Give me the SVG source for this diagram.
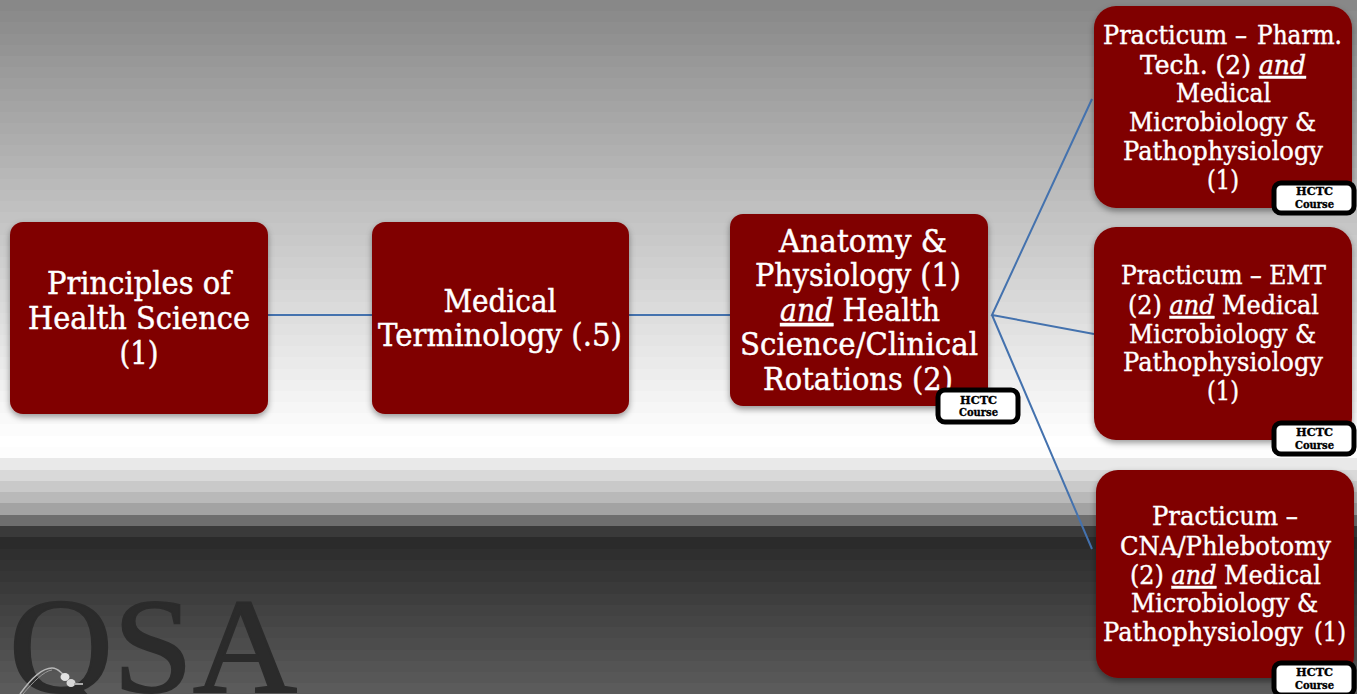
<svg xmlns="http://www.w3.org/2000/svg" width="1357" height="694" viewBox="0 0 1357 694">
<defs>
<style>
.box{fill:#800000;filter:url(#sh)}
.t{font-family:"DejaVu Serif","Liberation Serif",serif;fill:#fff;stroke:#fff;stroke-width:.45px;text-anchor:middle}
.l{font-size:31.5px}
.m{font-size:26px}
.em{font-style:italic;text-decoration:underline}
.badge{fill:#fff;stroke:#000;stroke-width:5}
.bt{font-family:"DejaVu Serif","Liberation Serif",serif;font-weight:bold;font-size:11px;fill:#000;stroke:#000;stroke-width:.35px;text-anchor:middle}
.c{stroke:#4472ae;stroke-width:2;fill:none}
</style>
<filter id="sh" x="-10%" y="-10%" width="120%" height="120%"><feDropShadow dx="0" dy="3" stdDeviation="3" flood-color="#000" flood-opacity=".4"/></filter>
</defs>
<g id="background">
<rect width="1357" height="12" y="0" fill="#888888"/><rect width="1357" height="12" y="11" fill="#8b8b8b"/><rect width="1357" height="13" y="22" fill="#8e8e8e"/><rect width="1357" height="12" y="34" fill="#919191"/><rect width="1357" height="12" y="45" fill="#949494"/><rect width="1357" height="12" y="56" fill="#989898"/><rect width="1357" height="12" y="67" fill="#9b9b9b"/><rect width="1357" height="12" y="78" fill="#9e9e9e"/><rect width="1357" height="13" y="89" fill="#a1a1a1"/><rect width="1357" height="12" y="101" fill="#a4a4a4"/><rect width="1357" height="12" y="112" fill="#a7a7a7"/><rect width="1357" height="12" y="123" fill="#aaaaaa"/><rect width="1357" height="12" y="134" fill="#adadad"/><rect width="1357" height="12" y="145" fill="#b0b0b0"/><rect width="1357" height="13" y="156" fill="#b3b3b3"/><rect width="1357" height="12" y="168" fill="#b7b7b7"/><rect width="1357" height="12" y="179" fill="#bababa"/><rect width="1357" height="12" y="190" fill="#bdbdbd"/><rect width="1357" height="12" y="201" fill="#c0c0c0"/><rect width="1357" height="12" y="212" fill="#c3c3c3"/><rect width="1357" height="13" y="223" fill="#c6c6c6"/><rect width="1357" height="12" y="235" fill="#c9c9c9"/><rect width="1357" height="12" y="246" fill="#cccccc"/><rect width="1357" height="12" y="257" fill="#cfcfcf"/><rect width="1357" height="12" y="268" fill="#d2d2d2"/><rect width="1357" height="12" y="279" fill="#d5d5d5"/><rect width="1357" height="13" y="290" fill="#d8d8d8"/><rect width="1357" height="12" y="302" fill="#dbdbdb"/><rect width="1357" height="12" y="313" fill="#dedede"/><rect width="1357" height="12" y="324" fill="#e1e1e1"/><rect width="1357" height="12" y="335" fill="#e4e4e4"/><rect width="1357" height="12" y="346" fill="#e7e7e7"/><rect width="1357" height="13" y="357" fill="#eaeaea"/><rect width="1357" height="12" y="369" fill="#ededed"/><rect width="1357" height="12" y="380" fill="#f0f0f0"/><rect width="1357" height="12" y="391" fill="#f3f3f3"/><rect width="1357" height="12" y="402" fill="#f6f6f6"/><rect width="1357" height="12" y="413" fill="#f9f9f9"/><rect width="1357" height="13" y="424" fill="#fcfcfc"/><rect width="1357" height="11" y="436" fill="#ffffff"/>
<rect width="1357" height="12" y="447" fill="#fdfdfd"/><rect width="1357" height="13" y="458" fill="#e9e9e9"/><rect width="1357" height="12" y="470" fill="#d9d9d9"/><rect width="1357" height="12" y="481" fill="#c9c9c9"/><rect width="1357" height="12" y="492" fill="#b9b9b9"/><rect width="1357" height="13" y="503" fill="#a3a3a3"/><rect width="1357" height="12" y="515" fill="#6e6e6e"/><rect width="1357" height="12" y="526" fill="#3a3a3a"/><rect width="1357" height="13" y="537" fill="#2b2b2b"/><rect width="1357" height="12" y="549" fill="#2f2f2f"/><rect width="1357" height="12" y="560" fill="#333333"/><rect width="1357" height="12" y="571" fill="#363636"/><rect width="1357" height="13" y="582" fill="#3a3a3a"/><rect width="1357" height="12" y="594" fill="#3e3e3e"/><rect width="1357" height="12" y="605" fill="#424242"/><rect width="1357" height="12" y="616" fill="#454545"/><rect width="1357" height="12" y="627" fill="#494949"/><rect width="1357" height="13" y="638" fill="#4c4c4c"/><rect width="1357" height="12" y="650" fill="#505050"/><rect width="1357" height="12" y="661" fill="#545454"/><rect width="1357" height="12" y="672" fill="#575757"/><rect width="1357" height="11" y="683" fill="#5b5b5b"/>
<text x="9" y="692" font-family="'Liberation Serif',serif" font-size="135" fill="#2b2b2b" stroke="#2b2b2b" stroke-width="2" textLength="288" lengthAdjust="spacingAndGlyphs">QSA</text>
<path d="M20 694C30 680 42 668 52 668C58 668 60 672 64 675" fill="none" stroke="#b8b8b8" stroke-width="1.500"/>
<path d="M23 694C33 682 44 671 52 670" fill="none" stroke="#999" stroke-width="1"/>
<ellipse cx="65" cy="677" rx="4.500" ry="4" fill="#e2e2e2"/><ellipse cx="71" cy="683" rx="4.500" ry="4" fill="#d8d8d8"/><path d="M74 684L83 684" stroke="#aaa" stroke-width="2"/>
</g>
<g id="connectors">
<path class="c" d="M268 315H372"/>
<path class="c" d="M629 315H730"/>
<path class="c" d="M1092 99L992 315L1094 334M992 315L1092 549"/>
</g>
<g id="node-principles">
<rect class="box" x="10" y="222" width="258" height="192" rx="13"/>
<text class="t l" x="139" y="294" textLength="184" lengthAdjust="spacingAndGlyphs">Principles of</text>
<text class="t l" x="139" y="329" textLength="222" lengthAdjust="spacingAndGlyphs">Health Science</text>
<text class="t l" x="139" y="364" textLength="39" lengthAdjust="spacingAndGlyphs">(1)</text>
</g>
<g id="node-terminology">
<rect class="box" x="372" y="222" width="257" height="192" rx="13"/>
<text class="t l" x="500" y="312" textLength="113" lengthAdjust="spacingAndGlyphs">Medical</text>
<text class="t l" x="500" y="346" textLength="244" lengthAdjust="spacingAndGlyphs">Terminology (.5)</text>
</g>
<g id="node-anatomy">
<rect class="box" x="730" y="214" width="258" height="192" rx="13"/>
<text class="t l" x="863" y="252" textLength="168" lengthAdjust="spacingAndGlyphs">Anatomy &amp;</text>
<text class="t l" x="858" y="286" textLength="206" lengthAdjust="spacingAndGlyphs">Physiology (1)</text>
<text class="t l" x="860" y="321" textLength="160" lengthAdjust="spacingAndGlyphs"><tspan class="em">and</tspan> Health</text>
<text class="t l" x="859" y="355" textLength="238" lengthAdjust="spacingAndGlyphs">Science/Clinical</text>
<text class="t l" x="858" y="390" textLength="190" lengthAdjust="spacingAndGlyphs">Rotations (2)</text>
<rect class="badge" x="938" y="390" width="80" height="32" rx="7"/>
<text class="bt" x="978.500" y="404" textLength="37" lengthAdjust="spacingAndGlyphs">HCTC</text>
<text class="bt" x="978.500" y="416" textLength="39" lengthAdjust="spacingAndGlyphs">Course</text>
</g>
<g id="node-pharm">
<rect class="box" x="1094" y="6" width="258" height="202" rx="22"/>
<text class="t m" x="1175" y="44" textLength="144" lengthAdjust="spacingAndGlyphs">Practicum –</text>
<text class="t m" x="1299.500" y="44" textLength="85" lengthAdjust="spacingAndGlyphs">Pharm.</text>
<text class="t m" x="1223" y="74" textLength="166" lengthAdjust="spacingAndGlyphs">Tech. (2) <tspan class="em">and</tspan></text>
<text class="t m" x="1223.500" y="102" textLength="95" lengthAdjust="spacingAndGlyphs">Medical</text>
<text class="t m" x="1222.500" y="131" textLength="187" lengthAdjust="spacingAndGlyphs">Microbiology &amp;</text>
<text class="t m" x="1223" y="160" textLength="200" lengthAdjust="spacingAndGlyphs">Pathophysiology</text>
<text class="t m" x="1223" y="189" textLength="32" lengthAdjust="spacingAndGlyphs">(1)</text>
<rect class="badge" x="1274" y="183" width="80" height="30" rx="7"/>
<text class="bt" x="1314.500" y="195" textLength="37" lengthAdjust="spacingAndGlyphs">HCTC</text>
<text class="bt" x="1314.500" y="208" textLength="39" lengthAdjust="spacingAndGlyphs">Course</text>
</g>
<g id="node-emt">
<rect class="box" x="1094" y="227" width="258" height="213" rx="22"/>
<text class="t m" x="1223.500" y="284" textLength="205" lengthAdjust="spacingAndGlyphs">Practicum – EMT</text>
<text class="t m" x="1223.500" y="314" textLength="191" lengthAdjust="spacingAndGlyphs">(2) <tspan class="em">and</tspan> Medical</text>
<text class="t m" x="1222.500" y="343" textLength="187" lengthAdjust="spacingAndGlyphs">Microbiology &amp;</text>
<text class="t m" x="1223" y="371" textLength="200" lengthAdjust="spacingAndGlyphs">Pathophysiology</text>
<text class="t m" x="1223" y="400" textLength="32" lengthAdjust="spacingAndGlyphs">(1)</text>
<rect class="badge" x="1274" y="423" width="80" height="31" rx="7"/>
<text class="bt" x="1314.500" y="436" textLength="37" lengthAdjust="spacingAndGlyphs">HCTC</text>
<text class="bt" x="1314.500" y="449" textLength="39" lengthAdjust="spacingAndGlyphs">Course</text>
</g>
<g id="node-cna">
<rect class="box" x="1096" y="470" width="258" height="208" rx="22"/>
<text class="t m" x="1225" y="525" textLength="146" lengthAdjust="spacingAndGlyphs">Practicum –</text>
<text class="t m" x="1225.500" y="555" textLength="211" lengthAdjust="spacingAndGlyphs">CNA/Phlebotomy</text>
<text class="t m" x="1225.500" y="584" textLength="191" lengthAdjust="spacingAndGlyphs">(2) <tspan class="em">and</tspan> Medical</text>
<text class="t m" x="1224.500" y="612" textLength="187" lengthAdjust="spacingAndGlyphs">Microbiology &amp;</text>
<text class="t m" x="1203" y="641" textLength="200" lengthAdjust="spacingAndGlyphs">Pathophysiology</text>
<text class="t m" x="1330" y="641" textLength="32" lengthAdjust="spacingAndGlyphs">(1)</text>
<rect class="badge" x="1274" y="663" width="80" height="32" rx="7"/>
<text class="bt" x="1314.500" y="676" textLength="37" lengthAdjust="spacingAndGlyphs">HCTC</text>
<text class="bt" x="1314.500" y="689" textLength="39" lengthAdjust="spacingAndGlyphs">Course</text>
</g>
</svg>
